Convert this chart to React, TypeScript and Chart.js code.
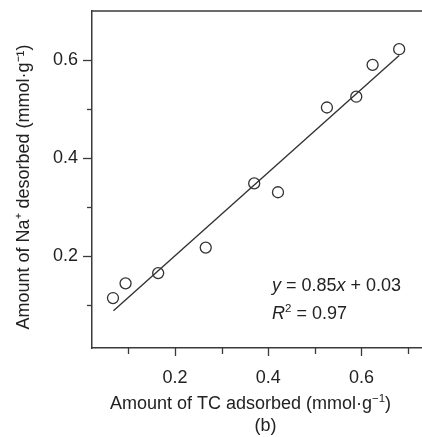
import { useEffect, useRef } from 'react';
import { Chart, registerables } from 'chart.js';

Chart.register(...registerables);

// ---- data ----
const tcAdsorbed = [0.067, 0.094, 0.164, 0.266, 0.370, 0.421, 0.526, 0.589, 0.624, 0.681];
const naDesorbed = [0.114, 0.144, 0.165, 0.217, 0.348, 0.330, 0.503, 0.525, 0.590, 0.622];
const fitX = [0.068, 0.681];
const fitY = [0.088, 0.609];
const xTickValues = [0.1, 0.2, 0.3, 0.4, 0.5, 0.6, 0.7];
const xLabelValues = [0.2, 0.4, 0.6];
const yTickValues = [0.1, 0.2, 0.3, 0.4, 0.5, 0.6];
const yLabelValues = [0.2, 0.4, 0.6];
const xRange = [0.022, 0.73];
const yRange = [0.012, 0.7];
const equationText = ['y', ' = 0.85', 'x', ' + 0.03'];
const r2Text = ['R', '2', ' = 0.97'];
const xTitle = ['Amount of TC adsorbed (mmol·g', '−1', ')'];
const yTitleText = 'Amount of Na\u207A desorbed (mmol·g\u207B\u00B9)';
const panelLabel = '(b)';

const FONT = '"Liberation Sans", Arial, Helvetica, sans-serif';
const TEXT = '#222';
const AXIS = '#3a3a3a';

type Seg = { t: string; italic?: boolean; sup?: boolean };

function segFont(s: Seg) {
  const size = s.sup ? 11.5 : 18;
  return `${s.italic ? 'italic ' : ''}${size}px ${FONT}`;
}

function drawRich(ctx: CanvasRenderingContext2D, segs: Seg[], x: number, y: number, align: 'left' | 'center') {
  ctx.save();
  ctx.textBaseline = 'alphabetic';
  ctx.textAlign = 'left';
  ctx.fillStyle = TEXT;
  let total = 0;
  const widths = segs.map((s) => {
    ctx.font = segFont(s);
    const w = ctx.measureText(s.t).width;
    total += w;
    return w;
  });
  let cx = align === 'center' ? x - total / 2 : x;
  segs.forEach((s, i) => {
    ctx.font = segFont(s);
    ctx.fillText(s.t, cx, s.sup ? y - 7 : y);
    cx += widths[i];
  });
  ctx.restore();
}

const zeroPad = (s: any) => {
  s.paddingTop = 0;
  s.paddingBottom = 0;
  s.paddingLeft = 0;
  s.paddingRight = 0;
};

const decorPlugin = {
  id: 'decor',
  afterDraw(chart: any) {
    const ctx: CanvasRenderingContext2D = chart.ctx;
    const { left, right, top, bottom } = chart.chartArea;
    const xs = chart.scales.x;
    const ys = chart.scales.y;
    ctx.save();
    ctx.strokeStyle = AXIS;
    ctx.lineWidth = 1.5;
    // top frame line
    ctx.beginPath();
    ctx.moveTo(left, top);
    ctx.lineTo(right, top);
    ctx.stroke();
    // tick marks (outward)
    ctx.lineWidth = 1.3;
    xTickValues.forEach((v) => {
      const px = Math.round(xs.getPixelForValue(v)) + 0.5;
      const len = xLabelValues.some((m) => Math.abs(m - v) < 1e-9) ? 8 : 6;
      ctx.beginPath();
      ctx.moveTo(px, bottom);
      ctx.lineTo(px, bottom + len);
      ctx.stroke();
    });
    yTickValues.forEach((v) => {
      const py = Math.round(ys.getPixelForValue(v)) + 0.5;
      const len = yLabelValues.some((m) => Math.abs(m - v) < 1e-9) ? 9 : 5;
      ctx.beginPath();
      ctx.moveTo(left, py);
      ctx.lineTo(left - len, py);
      ctx.stroke();
    });
    ctx.restore();

    // equation annotation
    drawRich(ctx, [
      { t: equationText[0], italic: true },
      { t: equationText[1] },
      { t: equationText[2], italic: true },
      { t: equationText[3] },
    ], 272, 291, 'left');
    drawRich(ctx, [
      { t: r2Text[0], italic: true },
      { t: r2Text[1], sup: true },
      { t: r2Text[2] },
    ], 272, 319, 'left');

    // x title
    drawRich(ctx, [{ t: xTitle[0] }, { t: xTitle[1], sup: true }, { t: xTitle[2] }], 250.5, 409, 'center');
    // panel label
    drawRich(ctx, [{ t: panelLabel }], 265.5, 431, 'center');
  },
};

export default function App() {
  const ref = useRef<HTMLCanvasElement>(null);
  useEffect(() => {
    if (!ref.current) return;
    const points = tcAdsorbed.map((x, i) => ({ x, y: naDesorbed[i] }));
    const fit = fitX.map((x, i) => ({ x, y: fitY[i] }));
    const tickFont = { family: FONT, size: 18 };
    const chart = new Chart(ref.current, {
      type: 'scatter',
      data: {
        datasets: [
          {
            type: 'line',
            data: fit,
            borderColor: '#333',
            borderWidth: 1.4,
            pointRadius: 0,
            fill: false,
            order: 2,
          } as any,
          {
            data: points,
            pointStyle: 'circle',
            pointRadius: 5.5,
            borderWidth: 1.3,
            borderColor: '#333',
            backgroundColor: 'rgba(0,0,0,0)',
            order: 1,
          },
        ],
      },
      options: {
        animation: false,
        responsive: false,
        devicePixelRatio: 1,
        layout: { autoPadding: false, padding: { top: 11, right: 0, left: 0, bottom: 0 } },
        plugins: { legend: { display: false }, tooltip: { enabled: false } },
        scales: {
          x: {
            type: 'linear',
            min: xRange[0],
            max: xRange[1],
            afterBuildTicks: (s: any) => {
              s.ticks = xTickValues.map((value) => ({ value }));
            },
            afterFit: (s: any) => {
              s.height = 89;
              zeroPad(s);
            },
            grid: { display: false, drawTicks: false },
            border: { display: true, color: AXIS, width: 1.5 },
            ticks: {
              autoSkip: false,
              maxRotation: 0,
              padding: 19,
              color: TEXT,
              font: tickFont,
              callback: (v: any) =>
                xLabelValues.some((m) => Math.abs(m - Number(v)) < 1e-9) ? Number(v).toFixed(1) : '',
            },
          },
          y: {
            type: 'linear',
            min: yRange[0],
            max: yRange[1],
            afterBuildTicks: (s: any) => {
              s.ticks = yTickValues.map((value) => ({ value }));
            },
            afterFit: (s: any) => {
              s.width = 92;
              zeroPad(s);
            },
            title: {
              display: true,
              text: yTitleText + '\u00A0\u00A0\u00A0',
              color: TEXT,
              font: { family: FONT, size: 18 },
              padding: { top: 13, bottom: 0 },
            },
            grid: { display: false, drawTicks: false },
            border: { display: true, color: AXIS, width: 1.5 },
            ticks: {
              autoSkip: false,
              padding: 14,
              color: TEXT,
              font: tickFont,
              callback: (v: any) =>
                yLabelValues.some((m) => Math.abs(m - Number(v)) < 1e-9) ? Number(v).toFixed(1) : '',
            },
          },
        },
      },
      plugins: [decorPlugin],
    });
    return () => chart.destroy();
  }, []);
  return (
    <div style={{ position: 'fixed', left: 0, top: 0, width: 422, height: 437, background: '#fff' }}>
      <canvas ref={ref} width={422} height={437} style={{ display: 'block' }} />
    </div>
  );
}
